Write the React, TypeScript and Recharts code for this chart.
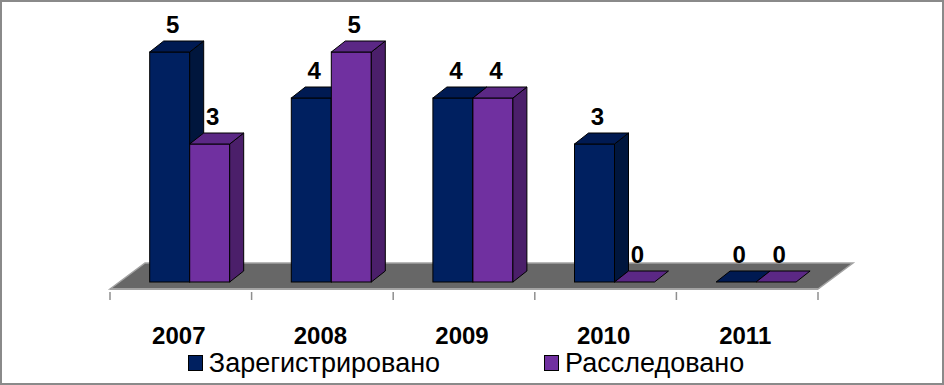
import React from "react";
import { Bar, BarChart, LabelList, Legend, ReferenceArea, XAxis, YAxis } from "recharts";

const YEARS = ["2007", "2008", "2009", "2010", "2011"];
const REGISTERED = [5, 4, 4, 3, 0];
const INVESTIGATED = [3, 5, 4, 0, 0];
const SERIES_NAMES = ["Зарегистрировано", "Расследовано"];

const data = YEARS.map((year, i) => ({
  year,
  registered: REGISTERED[i],
  investigated: INVESTIGATED[i],
}));

const FONT = '"Liberation Sans", Arial, sans-serif';

// 3d look: bars sit a bit back on the floor, then have their own depth
const SHIFT_X = 9.4;
const SHIFT_Y = -7;
const DEPTH_X = 14;
const DEPTH_Y = -11;
const FLOOR_X = 35;
const FLOOR_Y = -26;

const NAVY = { front: "#002060", top: "#001a52", side: "#00163d" };
const PURPLE = { front: "#7030a0", top: "#5b2885", side: "#4b1f6a" };

function makeBox(c: { front: string; top: string; side: string }) {
  return (props: any) => {
    const { x, y, width, height } = props;
    if (x == null || y == null) return null;
    const fx = x + SHIFT_X;
    const fy = y + SHIFT_Y;
    const w = width;
    const h = Math.max(0, height);
    const top = `${fx},${fy} ${fx + DEPTH_X},${fy + DEPTH_Y} ${fx + w + DEPTH_X},${fy + DEPTH_Y} ${fx + w},${fy}`;
    const side = `${fx + w},${fy} ${fx + w + DEPTH_X},${fy + DEPTH_Y} ${fx + w + DEPTH_X},${fy + h + DEPTH_Y} ${fx + w},${fy + h}`;
    return (
      <g>
        {h > 0 && <rect x={fx} y={fy} width={w} height={h} fill={c.front} stroke="#000" strokeWidth={1} />}
        {h > 0 && <polygon points={side} fill={c.side} stroke="#000" strokeWidth={1} />}
        <polygon points={top} fill={c.top} stroke="#000" strokeWidth={1} />
      </g>
    );
  };
}

const NavyBox = makeBox(NAVY);
const PurpleBox = makeBox(PURPLE);

function Floor(props: any) {
  const { x, y, width, height } = props;
  const b = y + height;
  const pts = `${x},${b} ${x + FLOOR_X},${b + FLOOR_Y} ${x + width + FLOOR_X},${b + FLOOR_Y} ${x + width},${b}`;
  return <polygon points={pts} fill="#676767" stroke="#a3a3a3" strokeWidth={1.5} />;
}

function ValueLabel(props: any) {
  const vb = props.viewBox ?? props;
  const { x, y, width } = vb;
  if (x == null) return null;
  return (
    <text
      x={x + width / 2 + SHIFT_X + 3}
      y={y + SHIFT_Y - 19}
      textAnchor="middle"
      fontFamily={FONT}
      fontSize={24}
      fontWeight="bold"
      fill="#000"
    >
      {props.value}
    </text>
  );
}

function YearTick(props: any) {
  const { x, y, payload, index } = props;
  const half = payload?.offset || 70.8;
  const last = index === YEARS.length - 1;
  return (
    <g>
      <line x1={x - half} x2={x - half} y1={y + 3} y2={y + 11} stroke="#8f8f8f" strokeWidth={1.5} />
      {last && <line x1={x + half} x2={x + half} y1={y + 3} y2={y + 11} stroke="#8f8f8f" strokeWidth={1.5} />}
      <text x={x - 2} y={y + 55} textAnchor="middle" fontFamily={FONT} fontSize={24} fontWeight="bold" fill="#000">
        {payload.value}
      </text>
    </g>
  );
}

function LegendContent(props: any) {
  const items = props.payload ?? [];
  return (
    <div
      style={{
        display: "flex",
        justifyContent: "center",
        alignItems: "center",
        gap: 104,
        height: 22,
        fontFamily: FONT,
        fontSize: 27,
        color: "#000",
        lineHeight: "22px",
      }}
    >
      {items.map((it: any) => (
        <div key={it.value} style={{ display: "flex", alignItems: "center" }}>
          <span
            style={{
              display: "inline-block",
              width: 13,
              height: 14,
              background: it.color,
              border: "1.5px solid #000",
              marginRight: 6,
            }}
          />
          <span>{it.value}</span>
        </div>
      ))}
    </div>
  );
}

export default function App() {
  return (
    <div
      style={{
        position: "absolute",
        left: 0,
        top: 0,
        width: 944,
        height: 385,
        boxSizing: "border-box",
        border: "2px solid #8a8a8a",
        background: "#fff",
      }}
    >
      <BarChart
        width={940}
        height={381}
        data={data}
        margin={{ top: 57, right: 124, left: 108, bottom: 12 }}
        barCategoryGap="21.4%"
        barGap={0}
      >
        <XAxis
          dataKey="year"
          height={60}
          tickSize={0}
          tickMargin={0}
          tickLine={false}
          axisLine={{ stroke: "#a3a3a3", strokeWidth: 2 }}
          tick={<YearTick />}
          interval={0}
        />
        <YAxis hide domain={[0, 5]} />
        <ReferenceArea y1={0} y2={0.2} ifOverflow="visible" shape={<Floor />} />
        <Legend
          verticalAlign="bottom"
          height={22}
          content={<LegendContent />}
          wrapperStyle={{ left: -6, top: 350, width: 940, height: 22 }}
        />
        <Bar dataKey="registered" name={SERIES_NAMES[0]} fill={NAVY.front} shape={NavyBox} isAnimationActive={false}>
          <LabelList dataKey="registered" content={<ValueLabel />} />
        </Bar>
        <Bar dataKey="investigated" name={SERIES_NAMES[1]} fill={PURPLE.front} shape={PurpleBox} isAnimationActive={false}>
          <LabelList dataKey="investigated" content={<ValueLabel />} />
        </Bar>
      </BarChart>
    </div>
  );
}
